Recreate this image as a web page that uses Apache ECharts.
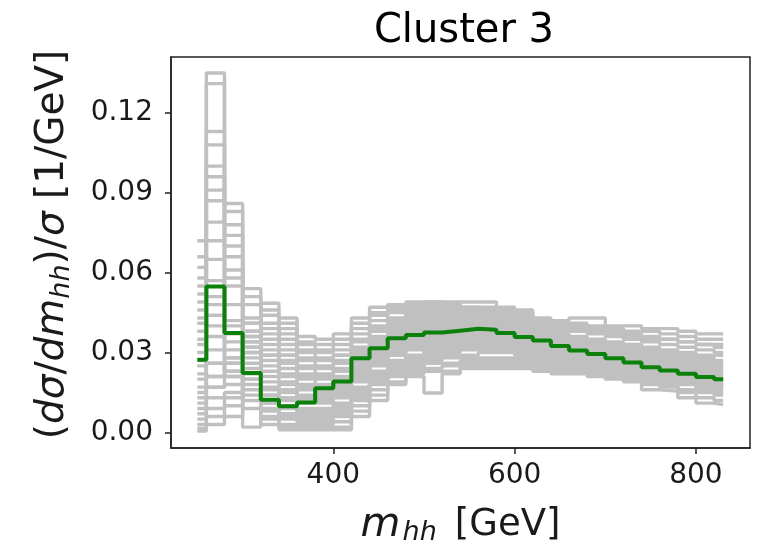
<!DOCTYPE html>
<html><head><meta charset="utf-8">
<script src="https://cdn.jsdelivr.net/npm/echarts@6/dist/echarts.min.js"></script>
<style>html,body{margin:0;padding:0;background:#fff}#c{width:758px;height:550px}</style>
</head><body><div id="c"></div>
<script>
const binEdges = [250,260,280,300,320,340,360,380,400,420,440,460,480,500,520,540,560,580,600,620,640,660,680,700,720,740,760,780,800,820,830];
const xTicks = [400, 600, 800];
const yTicks = [0, 0.03, 0.06, 0.09, 0.12];

const greenCurve = [0.0273,0.0548,0.0373,0.0223,0.0123,0.0098,0.0112,0.0166,0.0191,0.0279,0.0316,0.0354,0.0366,0.0375,0.0382,0.0389,0.0386,0.0373,0.0358,0.0345,0.0325,0.0308,0.0295,0.0279,0.0263,0.0245,0.0233,0.0220,0.0208,0.0200];

const grayB1 = [0.0015,0.006,0.010,0.030,0.039,0.041,0.034,0.033,0.035,0.041,0.045,0.047,0.049,0.049,0.048,0.047,0.046,0.045,0.044,0.042,0.041,0.040,0.039,0.038,0.037,0.036,0.035,0.034,0.033,0.032];
const grayB2 = [0.0005,0.003,0.006,0.020,0.033,0.037,0.036,0.035,0.037,0.043,0.047,0.048,0.048,0.049,0.049,0.049,0.049,0.047,0.046,0.043,0.042,0.043,0.043,0.040,0.040,0.039,0.039,0.038,0.037,0.037];
const grayB3 = [0.003,0.009,0.013,0.026,0.035,0.039,0.033,0.031,0.033,0.039,0.044,0.046,0.047,0.048,0.048,0.047,0.047,0.046,0.045,0.042,0.040,0.041,0.040,0.039,0.038,0.038,0.037,0.036,0.035,0.035];
const grayB4 = [0.005,0.013,0.015,0.032,0.041,0.035,0.031,0.030,0.031,0.037,0.042,0.045,0.046,0.047,0.047,0.046,0.045,0.044,0.043,0.041,0.039,0.039,0.038,0.037,0.036,0.035,0.035,0.034,0.033,0.033];
const grayB5 = [0.007,0.017,0.018,0.036,0.044,0.033,0.030,0.028,0.029,0.035,0.040,0.043,0.045,0.046,0.046,0.045,0.044,0.043,0.042,0.040,0.038,0.038,0.037,0.036,0.035,0.034,0.033,0.032,0.031,0.030];
const grayB6 = [0.009,0.021,0.021,0.034,0.037,0.031,0.028,0.027,0.029,0.034,0.039,0.042,0.044,0.045,0.045,0.044,0.043,0.042,0.041,0.039,0.037,0.036,0.035,0.034,0.033,0.032,0.031,0.030,0.029,0.029];
const grayB7 = [0.011,0.026,0.023,0.038,0.046,0.029,0.027,0.025,0.027,0.032,0.038,0.041,0.043,0.044,0.044,0.043,0.042,0.041,0.040,0.038,0.036,0.035,0.034,0.033,0.032,0.031,0.030,0.029,0.028,0.027];
const grayB8 = [0.013,0.017,0.026,0.041,0.0485,0.043,0.025,0.024,0.026,0.031,0.036,0.040,0.042,0.043,0.043,0.042,0.041,0.040,0.039,0.037,0.035,0.034,0.033,0.032,0.031,0.030,0.029,0.028,0.027,0.026];
const grayB9 = [0.015,0.021,0.028,0.043,0.029,0.027,0.024,0.022,0.024,0.030,0.035,0.039,0.041,0.042,0.042,0.041,0.040,0.039,0.038,0.036,0.034,0.033,0.032,0.031,0.030,0.029,0.028,0.027,0.026,0.025];

const grayM1 = [0.041,0.072,0.048,0.028,0.023,0.024,0.022,0.021,0.023,0.029,0.034,0.038,0.040,0.041,0.041,0.041,0.040,0.039,0.038,0.036,0.034,0.033,0.032,0.031,0.030,0.029,0.028,0.027,0.026,0.025];
const grayM2 = [0.035,0.057,0.042,0.051,0.027,0.022,0.021,0.020,0.021,0.027,0.033,0.037,0.039,0.040,0.040,0.040,0.039,0.038,0.037,0.035,0.033,0.032,0.031,0.030,0.029,0.028,0.027,0.026,0.025,0.024];
const grayM3 = [0.038,0.065,0.040,0.024,0.021,0.021,0.020,0.018,0.020,0.026,0.032,0.036,0.038,0.039,0.039,0.039,0.038,0.037,0.036,0.034,0.032,0.031,0.030,0.029,0.028,0.027,0.026,0.025,0.024,0.023];
const grayM4 = [0.030,0.051,0.037,0.032,0.019,0.019,0.018,0.017,0.019,0.025,0.031,0.035,0.037,0.038,0.038,0.038,0.037,0.036,0.035,0.034,0.032,0.030,0.029,0.028,0.027,0.026,0.025,0.024,0.023,0.022];
const grayM5 = [0.033,0.044,0.034,0.022,0.017,0.018,0.017,0.016,0.018,0.024,0.030,0.034,0.036,0.037,0.038,0.037,0.036,0.035,0.034,0.033,0.031,0.030,0.029,0.027,0.026,0.025,0.024,0.023,0.022,0.021];
const grayM6 = [0.027,0.048,0.031,0.020,0.016,0.016,0.016,0.015,0.017,0.023,0.029,0.033,0.035,0.036,0.037,0.036,0.036,0.035,0.034,0.032,0.031,0.029,0.028,0.027,0.026,0.024,0.023,0.022,0.021,0.020];
const grayM7 = [0.025,0.040,0.028,0.018,0.014,0.015,0.014,0.014,0.016,0.022,0.028,0.032,0.034,0.035,0.036,0.036,0.035,0.034,0.033,0.031,0.030,0.029,0.027,0.026,0.025,0.024,0.023,0.021,0.020,0.019];
const grayM8 = [0.022,0.036,0.026,0.016,0.012,0.013,0.013,0.013,0.015,0.021,0.027,0.031,0.033,0.034,0.035,0.035,0.034,0.033,0.032,0.031,0.029,0.028,0.027,0.025,0.024,0.023,0.022,0.021,0.019,0.018];
const grayM9 = [0.020,0.031,0.023,0.014,0.011,0.012,0.012,0.012,0.014,0.020,0.026,0.030,0.032,0.033,0.034,0.034,0.034,0.033,0.032,0.030,0.029,0.027,0.026,0.025,0.023,0.022,0.021,0.020,0.019,0.018];
const grayM10 = [0.017,0.026,0.021,0.012,0.009,0.010,0.011,0.011,0.013,0.019,0.025,0.029,0.031,0.032,0.033,0.033,0.033,0.032,0.031,0.030,0.028,0.027,0.026,0.024,0.023,0.022,0.021,0.019,0.018,0.017];

const grayP1 = [0.072,0.135,0.086,0.002,0.006,0.002,0.001,0.001,0.001,0.006,0.012,0.018,0.021,0.0148,0.022,0.024,0.024,0.024,0.024,0.023,0.022,0.022,0.021,0.020,0.019,0.016,0.0155,0.013,0.011,0.0105];
const grayP2 = [0.066,0.131,0.083,0.054,0.003,0.001,0.002,0.002,0.002,0.008,0.014,0.019,0.022,0.023,0.023,0.025,0.025,0.025,0.025,0.024,0.023,0.023,0.022,0.021,0.020,0.018,0.017,0.015,0.013,0.012];
const grayP3 = [0.062,0.113,0.078,0.009,0.008,0.003,0.003,0.003,0.004,0.010,0.016,0.021,0.023,0.024,0.025,0.026,0.026,0.026,0.026,0.025,0.024,0.024,0.023,0.022,0.021,0.019,0.018,0.016,0.015,0.014];
const grayP4 = [0.058,0.108,0.074,0.048,0.011,0.005,0.004,0.004,0.006,0.012,0.018,0.022,0.024,0.026,0.026,0.027,0.027,0.027,0.027,0.026,0.025,0.025,0.024,0.023,0.022,0.020,0.019,0.018,0.016,0.015];
const grayP5 = [0.055,0.100,0.070,0.038,0.014,0.006,0.005,0.005,0.007,0.013,0.019,0.023,0.025,0.027,0.028,0.028,0.028,0.028,0.028,0.027,0.026,0.026,0.025,0.024,0.023,0.021,0.020,0.019,0.017,0.016];
const grayP6 = [0.052,0.096,0.066,0.036,0.029,0.007,0.006,0.006,0.008,0.014,0.020,0.024,0.026,0.028,0.029,0.029,0.030,0.030,0.029,0.028,0.027,0.027,0.026,0.025,0.024,0.022,0.021,0.020,0.018,0.017];
const grayP7 = [0.049,0.091,0.061,0.034,0.005,0.009,0.007,0.007,0.009,0.015,0.021,0.025,0.027,0.029,0.030,0.031,0.031,0.031,0.030,0.029,0.028,0.028,0.027,0.026,0.025,0.023,0.022,0.021,0.019,0.018];
const grayP8 = [0.046,0.087,0.058,0.041,0.025,0.026,0.008,0.008,0.010,0.016,0.022,0.026,0.028,0.030,0.031,0.032,0.032,0.032,0.031,0.030,0.029,0.029,0.028,0.027,0.026,0.024,0.023,0.022,0.020,0.019];
const grayP9 = [0.043,0.079,0.055,0.030,0.031,0.029,0.009,0.009,0.011,0.017,0.023,0.027,0.029,0.031,0.032,0.033,0.033,0.033,0.032,0.031,0.030,0.030,0.029,0.028,0.027,0.025,0.024,0.023,0.021,0.020];

const grayCurves = [grayB1,grayB2,grayB3,grayB4,grayB5,grayB6,grayB7,grayB8,grayB9,
  grayM1,grayM2,grayM3,grayM4,grayM5,grayM6,grayM7,grayM8,grayM9,grayM10,
  grayP1,grayP2,grayP3,grayP4,grayP5,grayP6,grayP7,grayP8,grayP9];

function toSteps(vals) {
  const d = vals.map((v, i) => [binEdges[i], v]);
  d.push([binEdges[binEdges.length - 1], vals[vals.length - 1]]);
  return d;
}

const FONT = 'DejaVu Sans';
const ink = '#1a1a1a';

const series = grayCurves.map(c => ({
  type: 'line', data: toSteps(c), step: 'end', symbol: 'none', silent: true,
  lineStyle: { color: '#c0c0c0', width: 3.4 }, z: 2, animation: false
}));
series.push({
  type: 'line', data: toSteps(greenCurve), step: 'end', symbol: 'none', silent: true,
  lineStyle: { color: '#0b800b', width: 4 }, z: 3, animation: false
});

const richX = {
  n: { fontFamily: FONT, fontSize: 37, lineHeight: 42, color: ink },
  i: { fontFamily: FONT, fontSize: 41, lineHeight: 42, fontStyle: 'italic', color: ink, padding: [0, 2, 0, 0] },
  s: { fontFamily: FONT, fontSize: 27, lineHeight: 26, fontStyle: 'italic', verticalAlign: 'bottom', color: ink, padding: [0, 18, 0, 0] }
};
const richY = {
  n: { fontFamily: FONT, fontSize: 39, lineHeight: 44, color: ink },
  i: { fontFamily: FONT, fontSize: 39, lineHeight: 44, fontStyle: 'italic', color: ink },
  s: { fontFamily: FONT, fontSize: 27, lineHeight: 28, fontStyle: 'italic', verticalAlign: 'bottom', color: ink }
};

const chart = echarts.init(document.getElementById('c'), null, { renderer: 'canvas' });
chart.setOption({
  animation: false,
  backgroundColor: '#fff',
  title: {
    text: 'Cluster 3', left: 459, textAlign: 'center', top: 7,
    textStyle: { fontFamily: FONT, fontSize: 40, fontWeight: 'normal', color: '#000' }
  },
  grid: { left: 171, right: 8, top: 57, bottom: 102, show: true, borderColor: '#222', borderWidth: 1.5,
    backgroundColor: 'transparent', containLabel: false, outerBoundsMode: 'none' },
  xAxis: {
    type: 'value', min: 221, max: 859.6,
    name: '{i|m}{s|hh}{n|[GeV]}', nameLocation: 'middle', nameGap: 56,
    nameTextStyle: { rich: richX },
    axisLine: { show: true, onZero: false, lineStyle: { color: '#222', width: 1.5 } },
    axisTick: { show: true, customValues: xTicks, length: 6, lineStyle: { color: '#222', width: 1.5 } },
    axisLabel: { customValues: xTicks, fontFamily: FONT, fontSize: 28, color: ink, margin: 14 },
    splitLine: { show: false }
  },
  yAxis: {
    type: 'value', min: -0.00585, max: 0.141,
    name: '{n|(}{i|dσ}{n|/}{i|dm}{s|hh}{n|)/}{i|σ}{n| [1/GeV]}', nameLocation: 'middle', nameGap: 96, nameRotate: 90,
    nameTextStyle: { rich: richY, padding: [0, 0, 0, 16] },
    axisLine: { show: true, onZero: false, lineStyle: { color: '#222', width: 1.5 } },
    axisTick: { show: true, customValues: yTicks, length: 6, lineStyle: { color: '#222', width: 1.5 } },
    axisLabel: { customValues: yTicks, fontFamily: FONT, fontSize: 28, color: ink, margin: 18,
      formatter: v => v.toFixed(2) },
    splitLine: { show: false }
  },
  series: series
});
</script>
</body></html>
